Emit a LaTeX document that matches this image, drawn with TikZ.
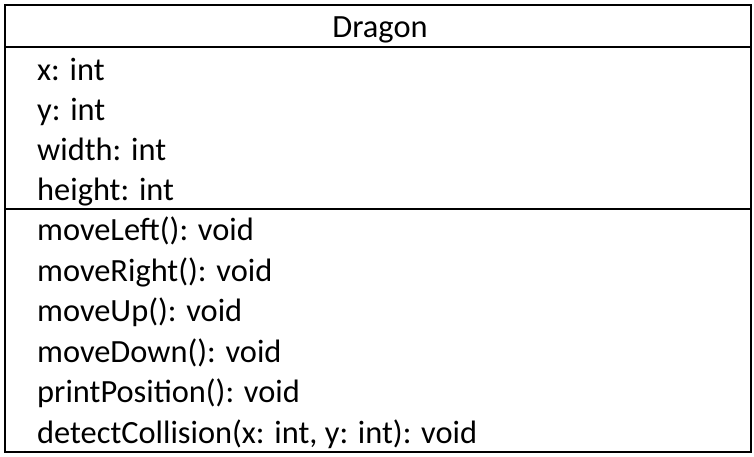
\documentclass[tikz,border=0pt]{standalone}
\usepackage{fontspec}
\setmainfont{Carlito}
\begin{document}
\begin{tikzpicture}[x=1pt,y=-1pt,
  frame/.style={line width=2pt},
  member/.style={anchor=base west,inner sep=0pt,font=\fontsize{32.4}{32.4}\selectfont},
  title/.style={anchor=base,inner sep=0pt,font=\fontsize{32.4}{32.4}\selectfont}]
\useasboundingbox (0,0) rectangle (754,456);
% class box with header, attribute and operation compartments
\draw[frame] (5,5) rectangle (751,452);
\draw[frame] (5,47) -- (751,47);
\draw[frame] (5,209) -- (751,209);
\node[title] (name) at (380,37) {Dragon};
% attributes
\node[member] (a1) at (37,80) {x: int};
\node[member] (a2) at (37,120) {y: int};
\node[member] (a3) at (37,160) {width: int};
\node[member] (a4) at (37,200) {height: int};
% operations
\node[member] (m1) at (37,240.5) {moveLeft(): void};
\node[member] (m2) at (37,281) {moveRight(): void};
\node[member] (m3) at (37,321.5) {moveUp(): void};
\node[member] (m4) at (37,362) {moveDown(): void};
\node[member] (m5) at (37,402.5) {printPosition(): void};
\node[member] (m6) at (37,443) {detectCollision(x: int, y: int): void};
\end{tikzpicture}
\end{document}
